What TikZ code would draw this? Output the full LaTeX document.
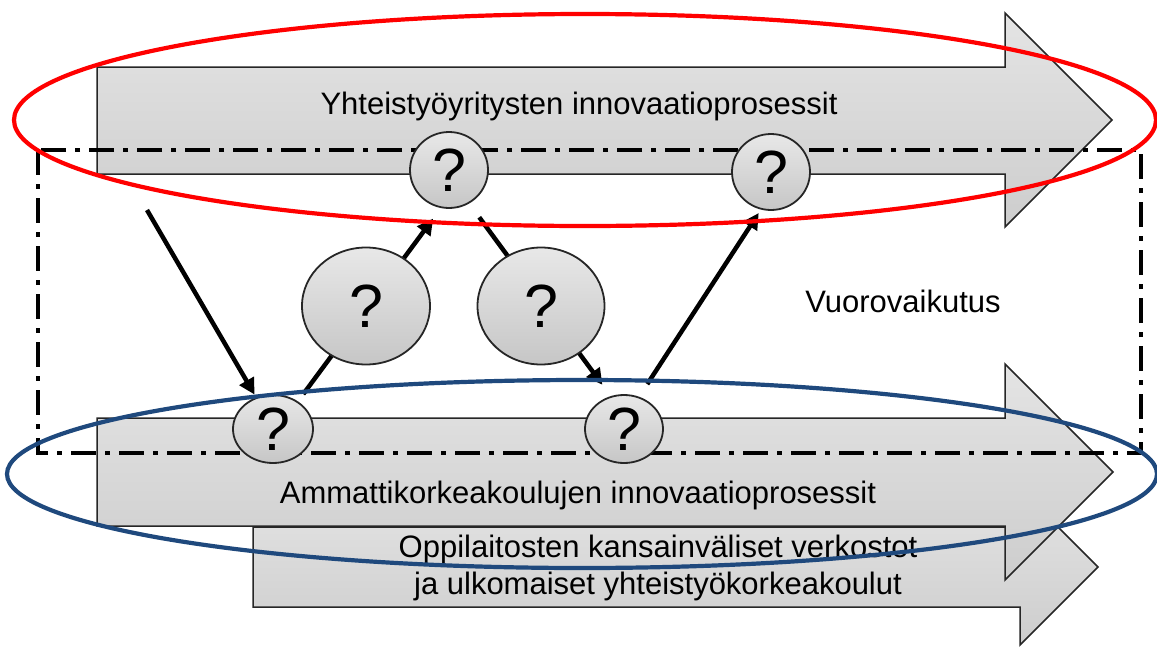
\documentclass[tikz,border=0pt]{standalone}
\usepackage{fontspec}
\setmainfont{Liberation Sans}
\usetikzlibrary{arrows.meta,shapes.geometric}
\definecolor{ringred}{HTML}{FF0000}
\definecolor{ringblue}{HTML}{1F497D}
\definecolor{flowtop}{HTML}{E4E4E4}
\definecolor{flowbot}{HTML}{CDCDCD}
\definecolor{balltop}{HTML}{E8E8E8}
\definecolor{ballbot}{HTML}{C6C6C6}
\pgfdeclarelayer{flows}
\pgfdeclarelayer{links}
\pgfsetlayers{flows,links,main}
\begin{document}
\begin{tikzpicture}[x=1pt,y=-1pt,
  flow/.style={draw=black!85, line width=1.5pt, top color=flowtop, bottom color=flowbot, line join=miter},
  flowtext/.style={font=\fontsize{31}{37}\selectfont, anchor=base, inner sep=0pt},
  qmark/.style={ellipse, draw=black!85, line width=1.8pt, top color=balltop, bottom color=ballbot,
                inner sep=0pt, font=\fontsize{61}{61}\selectfont},
  conn/.style={line width=4.5pt, -{Triangle[length=16pt,width=16pt]}},
  frame/.style={line width=3.6pt, dash pattern=on 25pt off 9pt on 5pt off 9pt},
  ring/.style={line width=4.2pt}]

\useasboundingbox (0,0) rectangle (1157,646);

% the three process arrows with their labels
\begin{pgfonlayer}{flows}
  \path[flow] (253,527) -- (1020,527) -- (1020,489) -- (1098,567) -- (1020,645) -- (1020,607) -- (253,607) -- cycle;
  \path[flow] (97,418) -- (1005,418) -- (1005,364) -- (1113,472) -- (1005,580) -- (1005,526) -- (97,526) -- cycle;
  \path[flow] (97,67) -- (1005,67) -- (1005,13) -- (1112,120) -- (1005,227) -- (1005,174) -- (97,174) -- cycle;

  \node[flowtext] (t1) at (579,114) {Yhteistyöyritysten innovaatioprosessit};
  \node[flowtext] (t2) at (578,503) {Ammattikorkeakoulujen innovaatioprosessit};
  \node[flowtext] (t3) at (658,557) {Oppilaitosten kansainväliset verkostot};
  \node[flowtext] (t4) at (658,594) {ja ulkomaiset yhteistyökorkeakoulut};
  \node[flowtext] (vv) at (903,312) {Vuorovaikutus};

  % interaction zone
  \draw[frame] (38,150) rectangle (1141,453);
\end{pgfonlayer}

% question marks
\node[qmark, minimum width=78pt, minimum height=76pt] (q1) at (449,170) {?};
\node[qmark, minimum width=78pt, minimum height=76pt] (q2) at (771,172) {?};
\node[qmark, minimum width=80pt, minimum height=68pt] (c1) at (273,429) {?};
\node[qmark, minimum width=78pt, minimum height=68pt] (c2) at (624,429) {?};
\node[qmark, minimum width=128pt, minimum height=117pt] (b1) at (366,306) {?};
\node[qmark, minimum width=127pt, minimum height=117pt] (b2) at (541,306) {?};

\coordinate (s0) at (147,210);

% flow between the two processes
\begin{pgfonlayer}{links}
  \draw[conn, shorten >=3pt] (s0) -- (c1.118);
  \draw[conn, shorten <=9pt, shorten >=13pt] (c1.48) -- (q1.-102);
  \draw[conn, shorten <=17pt, shorten >=14pt] (q1.-59) -- (c2.112);
  \draw[conn, shorten <=15pt, shorten >=4pt] (c2.65) -- (q2.-105);
\end{pgfonlayer}

% groupings
\draw[ring, ringred] (585,120) ellipse [x radius=571pt, y radius=106pt];
\draw[ring, ringblue] (582,474) ellipse [x radius=575pt, y radius=94pt];
\end{tikzpicture}
\end{document}
